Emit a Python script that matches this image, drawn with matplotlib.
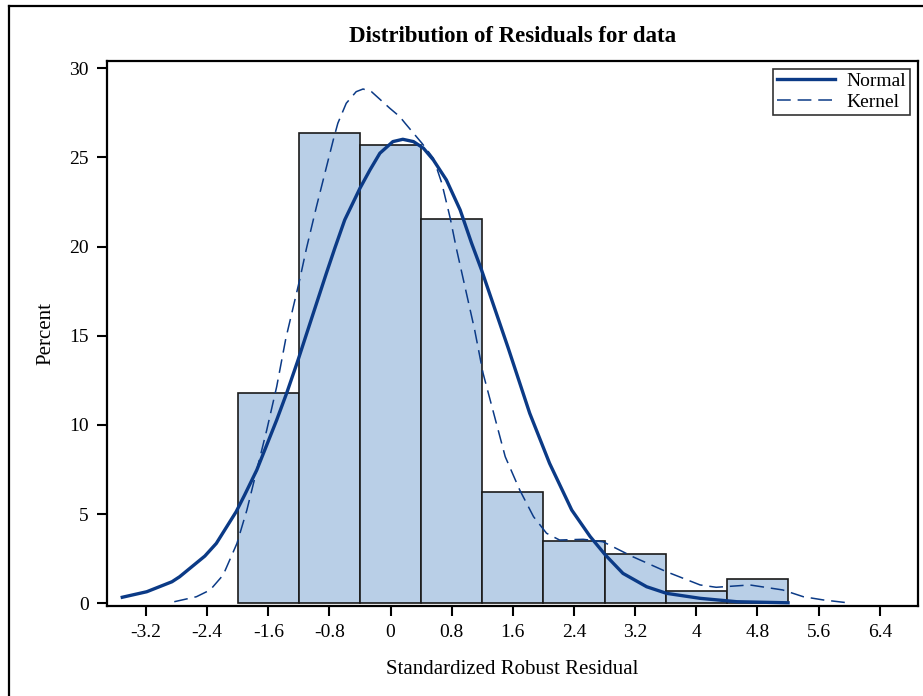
import matplotlib
matplotlib.use("Agg")
import matplotlib.pyplot as plt
from matplotlib.lines import Line2D

plt.rcParams['font.family'] = ['Liberation Serif', 'DejaVu Serif']

# Histogram (percent of observations)
bin_centers = [-1.6, -0.8, 0.0, 0.8, 1.6, 2.4, 3.2, 4.0, 4.8]
bin_width = 0.8
percents = [11.81, 26.39, 25.69, 21.53, 6.25, 3.47, 2.78, 0.69, 1.39]

# Normal curve
normal_x = [-3.51, -3.19, -2.86, -2.76, -2.43, -2.28, -2.02, -1.91, -1.75, -1.49, -1.36,
            -1.21, -1.10, -0.84, -0.73, -0.60, -0.40, -0.27, -0.14, 0.03, 0.16, 0.30,
            0.43, 0.56, 0.73, 0.91, 1.06, 1.19, 1.54, 1.82, 2.08, 2.37, 2.61, 2.81,
            3.04, 3.35, 3.61, 4.05, 4.53, 5.20]
normal_y = [0.34, 0.65, 1.21, 1.49, 2.65, 3.36, 5.14, 6.07, 7.48, 10.28, 11.78,
            13.65, 15.1, 18.51, 19.91, 21.50, 23.28, 24.30, 25.24, 25.89, 26.02, 25.89,
            25.52, 24.86, 23.74, 22.06, 20.19, 18.69, 14.30, 10.66, 7.85, 5.23, 3.75, 2.71,
            1.68, 0.93, 0.56, 0.28, 0.09, 0.03]

# Kernel density curve
kernel_x = [-2.83, -2.54, -2.36, -2.19, -2.01, -1.88, -1.75, -1.62, -1.49, -1.37,
            -1.19, -1.10, -0.97, -0.75, -0.69, -0.58, -0.45, -0.36, -0.25, -0.01, 0.12,
            0.19, 0.41, 0.56, 0.67, 0.78, 0.86, 1.10, 1.21, 1.50, 1.69, 1.87, 2.04,
            2.21, 2.52, 2.78, 3.17, 3.61, 4.05, 4.26, 4.70, 5.13, 5.40, 5.66, 5.98]
kernel_y = [0.09, 0.37, 0.75, 1.59, 3.36, 5.23, 7.48, 9.72, 12.15, 14.86,
            18.13, 19.91, 22.24, 25.98, 26.92, 28.04, 28.69, 28.84, 28.69, 27.76, 27.29,
            26.92, 25.80, 24.96, 23.56, 21.60, 19.91, 15.33, 12.90, 8.22, 6.35, 4.86, 3.93,
            3.55, 3.59, 3.45, 2.61, 1.77, 1.03, 0.90, 1.03, 0.75, 0.37, 0.19, 0.03]

x_ticks = [-3.2, -2.4, -1.6, -0.8, 0, 0.8, 1.6, 2.4, 3.2, 4, 4.8, 5.6, 6.4]
x_tick_labels = ['-3.2', '-2.4', '-1.6', '-0.8', '0', '0.8', '1.6', '2.4', '3.2', '4', '4.8', '5.6', '6.4']
y_ticks = [0, 5, 10, 15, 20, 25, 30]

line_color = '#0B3A86'
bar_color = '#B9CFE7'

fig = plt.figure(figsize=(9.23, 6.96), dpi=100)
ax = fig.add_axes([107/923, 1 - 606/696, (918 - 107)/923, (606 - 61)/696])

ax.bar(bin_centers, percents, width=bin_width, color=bar_color,
       edgecolor='#1a1a1a', linewidth=1.2, zorder=1)
ax.plot(normal_x, normal_y, color=line_color, lw=2.4, zorder=3, label='Normal',
        solid_joinstyle='round')
ax.plot(kernel_x, kernel_y, color=line_color, lw=1.1, zorder=3, label='Kernel',
        dashes=(9, 4.5))

ax.set_xlim(-3.71, 6.90)
ax.set_ylim(-0.15, 30.41)
ax.set_xticks(x_ticks)
ax.set_xticklabels(x_tick_labels)
ax.set_yticks(y_ticks)
ax.tick_params(axis='both', direction='out', length=7, width=1.5, labelsize=14,
               color='black', pad=6)
for s in ax.spines.values():
    s.set_linewidth(1.6)
    s.set_color('black')

ax.set_xlabel('Standardized Robust Residual', fontsize=15, labelpad=14)
ax.set_ylabel('Percent', fontsize=15, labelpad=10)
fig.text(0.555, 1 - 37/696, 'Distribution of Residuals for data', ha='center', va='center',
         fontsize=16.5, fontweight='bold')

leg = ax.legend(loc='upper right', fontsize=14, frameon=True, fancybox=False,
                edgecolor='black', handlelength=3.0, borderpad=0.2, labelspacing=0.15,
                handletextpad=0.6, borderaxespad=0.4)
leg.get_frame().set_linewidth(1.2)

# outer border of the graph area
fig.add_artist(Line2D([9/923, 9/923], [0, 1 - 6/696], transform=fig.transFigure,
                      color='black', lw=1.6))
fig.add_artist(Line2D([9/923, 1], [1 - 6/696, 1 - 6/696], transform=fig.transFigure,
                      color='black', lw=1.6))

fig.savefig('out.png', dpi=100)
